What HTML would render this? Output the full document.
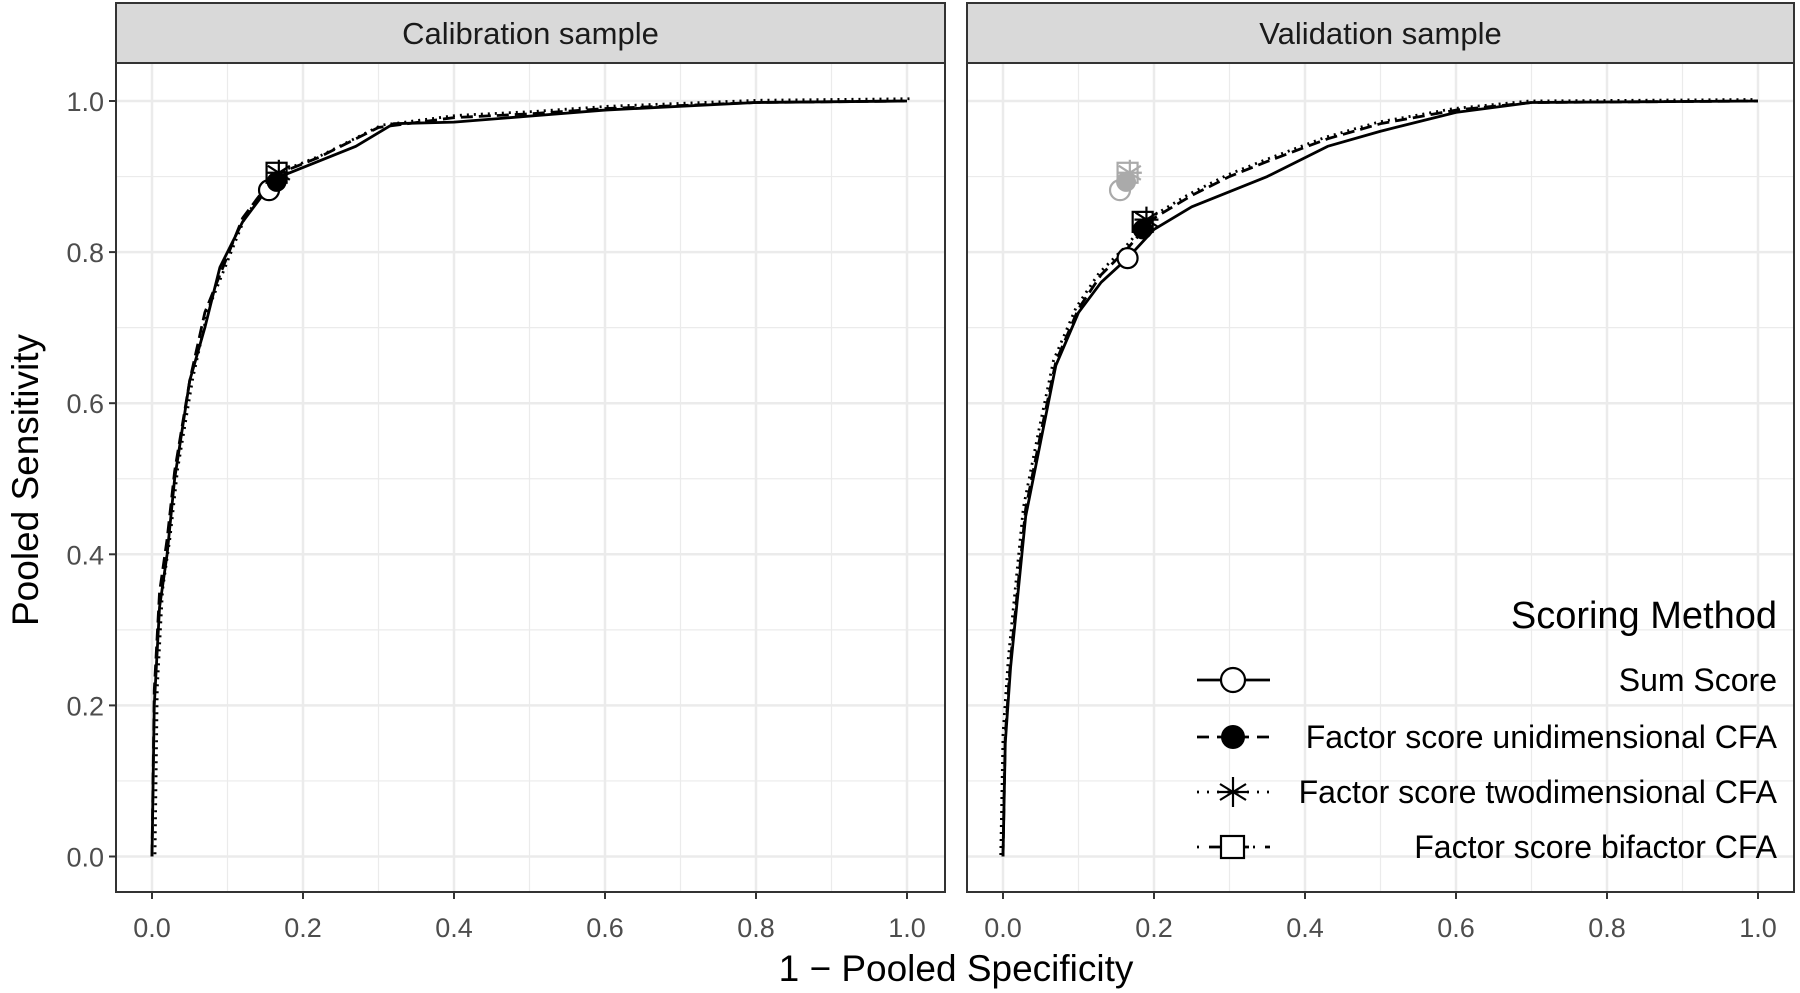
<!DOCTYPE html>
<html><head><meta charset="utf-8"><style>
html,body{margin:0;padding:0;background:#fff}
svg{display:block;font-family:"Liberation Sans",Arial,sans-serif}
</style></head><body>
<svg id="s" width="1800" height="993" xmlns="http://www.w3.org/2000/svg">
<rect width="1800" height="993" fill="#fff"/>
<text x="956" y="981" font-size="37" text-anchor="middle" fill="#000">1 − Pooled Specificity</text>
<text transform="translate(38,480) rotate(-90)" font-size="37" text-anchor="middle" fill="#000">Pooled Sensitivity</text>
</svg>
<script>
const s=document.getElementById('s');const NS='http://www.w3.org/2000/svg';
function el(t,a,p){const e=document.createElementNS(NS,t);for(const k in a)e.setAttribute(k,a[k]);(p||s).appendChild(e);return e;}
const Y0=856.5,YS=755.5;
function panel(L,R,X0,title,lines,marks,grey){
  const Xs=(v)=>X0+v*755, Ys=(v)=>Y0-v*YS;
  el('rect',{x:L,y:63,width:R-L,height:829,fill:'#fff'});
  for(let i=0;i<=10;i++){const v=i/10;const maj=i%2==0;
    el('line',{x1:Xs(v),x2:Xs(v),y1:63,y2:892,stroke:'#ebebeb','stroke-width':maj?2.5:1.2});
    el('line',{x1:L,x2:R,y1:Ys(v),y2:Ys(v),stroke:'#ebebeb','stroke-width':maj?2.5:1.2});}
  lines.forEach(([pts,dash])=>{el('polyline',{points:pts.map(p=>Xs(p[0])+','+Ys(p[1])).join(' '),fill:'none',stroke:'#000','stroke-width':2.8,'stroke-dasharray':dash,'stroke-linejoin':'round'});});
  function marker(k,x,y,c){x=Xs(x);y=Ys(y);
    if(k==0)el('circle',{cx:x,cy:y,r:10,fill:'#fff',stroke:c,'stroke-width':2.2});
    if(k==1)el('circle',{cx:x,cy:y,r:10,fill:c});
    if(k==2){[[0,-13,0,13],[-11,-7,11,7],[-11,7,11,-7],[-12,0,12,0]].forEach(d=>el('line',{x1:x+d[0],y1:y+d[1],x2:x+d[2],y2:y+d[3],stroke:c,'stroke-width':2.2}));}
    if(k==3)el('rect',{x:x-10,y:y-10,width:20,height:20,fill:'none',stroke:c,'stroke-width':2.2});}
  if(grey)grey.forEach((m,i)=>marker(i,m[0],m[1],'#aaa'));
  marks.forEach((m,i)=>marker(i,m[0],m[1],'#000'));
  el('rect',{x:L,y:63,width:R-L,height:829,fill:'none',stroke:'#333','stroke-width':2});
  el('rect',{x:L,y:3,width:R-L,height:60,fill:'#d9d9d9',stroke:'#333','stroke-width':2});
  const t=el('text',{x:(L+R)/2,y:44,'font-size':31,'text-anchor':'middle',fill:'#1a1a1a'});t.textContent=title;
  for(let i=0;i<=5;i++){const v=i*0.2;
    el('line',{x1:Xs(v),x2:Xs(v),y1:892,y2:899,stroke:'#333','stroke-width':2});
    const tx=el('text',{x:Xs(v),y:937,'font-size':27,'text-anchor':'middle',fill:'#4d4d4d'});tx.textContent=v.toFixed(1);}
}
const calS=[[0,0],[0.003,0.2],[0.01,0.33],[0.02,0.4],[0.03,0.5],[0.05,0.63],[0.07,0.7],[0.09,0.78],[0.12,0.84],[0.15,0.88],[0.17,0.9],[0.22,0.92],[0.27,0.94],[0.32,0.97],[0.4,0.972],[0.5,0.98],[0.6,0.988],[0.8,0.998],[1,1]];
const calD=[[0,0],[0.003,0.22],[0.01,0.35],[0.02,0.42],[0.03,0.51],[0.05,0.63],[0.07,0.72],[0.09,0.77],[0.12,0.845],[0.15,0.885],[0.17,0.905],[0.22,0.925],[0.27,0.95],[0.3,0.965],[0.4,0.978],[0.5,0.983],[0.6,0.99],[0.8,0.998],[1,1]];
const valS=[[0,0],[0.003,0.15],[0.01,0.25],[0.02,0.35],[0.03,0.45],[0.05,0.55],[0.07,0.65],[0.1,0.72],[0.13,0.76],[0.165,0.792],[0.2,0.83],[0.25,0.86],[0.3,0.88],[0.35,0.9],[0.43,0.94],[0.5,0.96],[0.6,0.985],[0.7,0.998],[1,1]];
const valD=[[0,0],[0.003,0.16],[0.01,0.26],[0.02,0.36],[0.03,0.46],[0.05,0.56],[0.07,0.655],[0.1,0.725],[0.13,0.77],[0.165,0.805],[0.2,0.845],[0.25,0.875],[0.3,0.9],[0.35,0.92],[0.43,0.95],[0.5,0.97],[0.6,0.988],[0.7,0.998],[1,1]];
panel(116,945,152,'Calibration sample',[[calS,''],[calD,'12 6'],[calD.map(p=>[p[0]+0.004,p[1]+0.003]),'2 5']],[[0.155,0.882],[0.165,0.893],[0.168,0.905],[0.165,0.905]]);
panel(967,1794,1003,'Validation sample',[[valS,''],[valD,'12 6'],[valD.map(p=>[p[0]-0.003,p[1]+0.002]),'2 5']],[[0.165,0.792],[0.185,0.83],[0.19,0.843],[0.185,0.84]],[[0.155,0.882],[0.163,0.893],[0.168,0.905],[0.165,0.905]]);
for(let i=0;i<=5;i++){const v=i*0.2,y=Y0-v*YS;
  el('line',{x1:109,x2:116,y1:y,y2:y,stroke:'#333','stroke-width':2});
  const t=el('text',{x:104,y:y+10,'font-size':27,'text-anchor':'end',fill:'#4d4d4d'});t.textContent=v.toFixed(1);}
let t=el('text',{x:1777,y:628,'font-size':38,'text-anchor':'end',fill:'#000'});t.textContent='Scoring Method';
const labs=['Sum Score','Factor score unidimensional CFA','Factor score twodimensional CFA','Factor score bifactor CFA'];
const ys=[680,737,792,847],dashes=['','12 8','2 8','2 10 12 4'];
labs.forEach((l,i)=>{const y=ys[i];
  el('line',{x1:1197,x2:1270,y1:y,y2:y,stroke:'#000','stroke-width':2.8,'stroke-dasharray':dashes[i]});
  if(i==0)el('circle',{cx:1233,cy:y,r:12,fill:'#fff',stroke:'#000','stroke-width':2.2});
  if(i==1)el('circle',{cx:1233,cy:y,r:12,fill:'#000'});
  if(i==2){[[0,-15,0,15],[-13,-8,13,8],[-13,8,13,-8],[-15,0,15,0]].forEach(d=>el('line',{x1:1233+d[0],y1:y+d[1],x2:1233+d[2],y2:y+d[3],stroke:'#000','stroke-width':2.2}));}
  if(i==3)el('rect',{x:1221,y:y-11,width:23,height:22,fill:'#fff',stroke:'#000','stroke-width':2.2});
  const tt=el('text',{x:1777,y:y+11,'font-size':32,'text-anchor':'end',fill:'#000'});tt.textContent=l;});
</script>
</body></html>
